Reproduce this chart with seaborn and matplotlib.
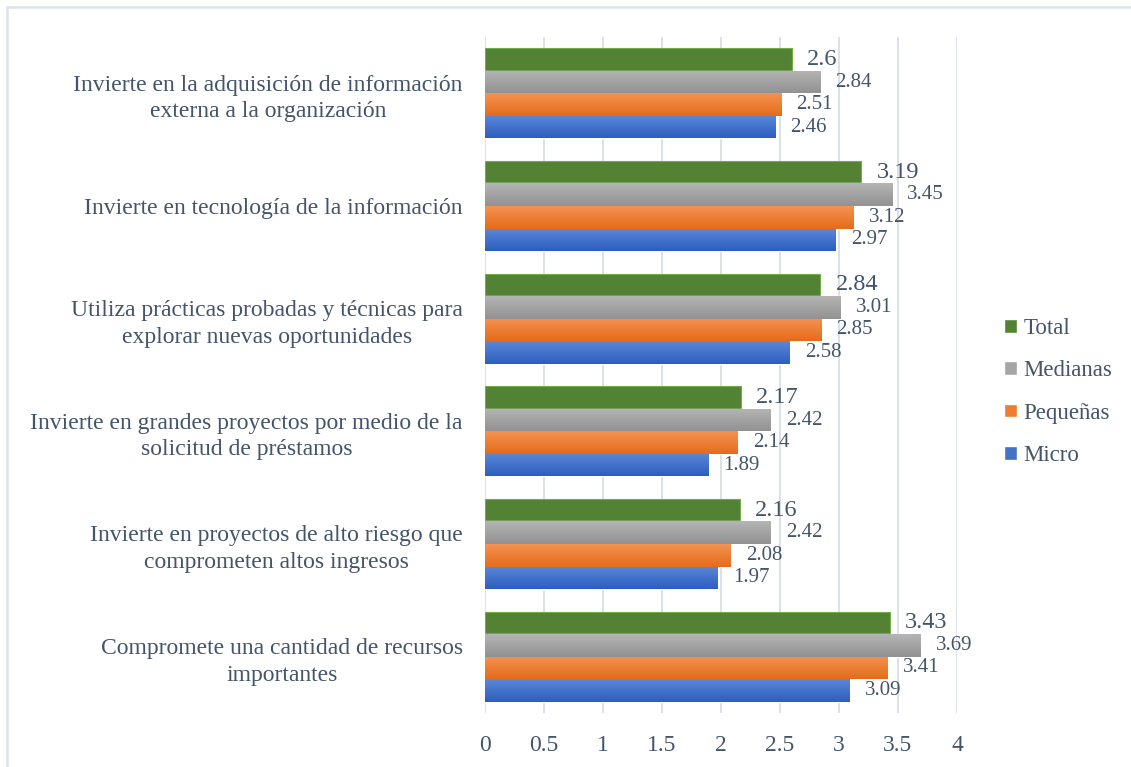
import matplotlib
matplotlib.use("Agg")
import matplotlib.pyplot as plt
import matplotlib.patches as mpatches
import numpy as np
import pandas as pd
import seaborn as sns

categories = [
    "Invierte en la adquisición de información\nexterna a la organización",
    "Invierte en tecnología de la información",
    "Utiliza prácticas probadas y técnicas para\nexplorar nuevas oportunidades",
    "Invierte en grandes proyectos por medio de la\nsolicitud de préstamos",
    "Invierte en proyectos de alto riesgo que\ncomprometen altos ingresos",
    "Compromete una cantidad de recursos\nimportantes",
]
series = ["Total", "Medianas", "Pequeñas", "Micro"]
total = [2.6, 3.19, 2.84, 2.17, 2.16, 3.43]
medianas = [2.84, 3.45, 3.01, 2.42, 2.42, 3.69]
pequenas = [2.51, 3.12, 2.85, 2.14, 2.08, 3.41]
micro = [2.46, 2.97, 2.58, 1.89, 1.97, 3.09]

colors = {"Total": "#548235", "Medianas": "#A5A5A5", "Pequeñas": "#ED7D31", "Micro": "#4472C4"}
gradients = {
    "Medianas": ("#B4B4B4", "#929292"),
    "Pequeñas": ("#F49352", "#E56B1A"),
    "Micro": ("#5B88D8", "#2D5EBD"),
}
text_color = "#44546A"

df = pd.DataFrame({
    "categoria": categories * 4,
    "serie": np.repeat(series, len(categories)),
    "valor": total + medianas + pequenas + micro,
})

sns.set_theme(style="white")
plt.rcParams["font.family"] = ["Liberation Serif", "DejaVu Serif"]

fig = plt.figure(figsize=(11.31, 7.67), dpi=100)
ax = fig.add_axes([485 / 1131, 1 - 713 / 767, (957 - 485) / 1131, (713 - 37) / 767])

sns.barplot(data=df, y="categoria", x="valor", hue="serie", hue_order=series,
            order=categories, palette=colors, orient="h", width=0.8,
            ax=ax, legend=False, saturation=1)

ax.set_xlim(0, 4)
xlim, ylim = ax.get_xlim(), ax.get_ylim()

# Excel-style vertical gradients on bars
for cont, name in zip(ax.containers, series):
    for bar in cont:
        if name == "Total":
            bar.set_edgecolor("#70AD47")
            bar.set_linewidth(0.8)
            continue
        top, bot = gradients[name]
        c = np.linspace(0, 1, 64)[:, None, None]
        grad = (1 - c) * np.array(matplotlib.colors.to_rgb(top)) + c * np.array(matplotlib.colors.to_rgb(bot))
        x0, y0 = bar.get_x(), bar.get_y()
        w, h = bar.get_width(), bar.get_height()
        im = ax.imshow(grad, extent=(x0, x0 + w, y0 + h, y0), aspect="auto",
                       origin="upper", zorder=bar.get_zorder() + 0.1)
        im.set_clip_path(bar)
ax.set_xlim(xlim)
ax.set_ylim(ylim)

for cont, name in zip(ax.containers, series):
    ax.bar_label(cont, labels=[f"{v:g}" for v in cont.datavalues], padding=11,
                 fontsize=17.5 if name == "Total" else 15, color=text_color)

ax.set_xticks(np.arange(0, 4.01, 0.5))
ax.set_xticklabels([f"{t:g}" for t in np.arange(0, 4.01, 0.5)])
ax.grid(axis="x", color="#D9DEE6", linewidth=1.3)
ax.set_axisbelow(True)
for s in ax.spines.values():
    s.set_visible(False)
ax.tick_params(axis="x", length=0, labelsize=17, labelcolor=text_color, pad=16)
ax.tick_params(axis="y", length=0, labelsize=17, labelcolor=text_color, pad=16)
for lbl in ax.get_yticklabels():
    lbl.set_multialignment("center")
    lbl.set_linespacing(1.35)
ax.set_xlabel("")
ax.set_ylabel("")

handles = [mpatches.Patch(facecolor=colors[s], label=s) for s in series]
fig.legend(handles=handles, loc="center left", bbox_to_anchor=(1004 / 1131, 1 - 392 / 767),
           frameon=False, fontsize=16.5, handlelength=0.55, handleheight=0.55,
           handletextpad=0.3, labelspacing=0.93, labelcolor=text_color,
           borderpad=0, borderaxespad=0)

# chart area border (only top and left edges visible)
fig.add_artist(mpatches.Rectangle((7 / 1131, -0.1), 1.2, 1 - 7 / 767 + 0.1,
                                  transform=fig.transFigure, fill=False,
                                  edgecolor="#DDE2E8", linewidth=1.8))

fig.savefig("out.png", dpi=100)
